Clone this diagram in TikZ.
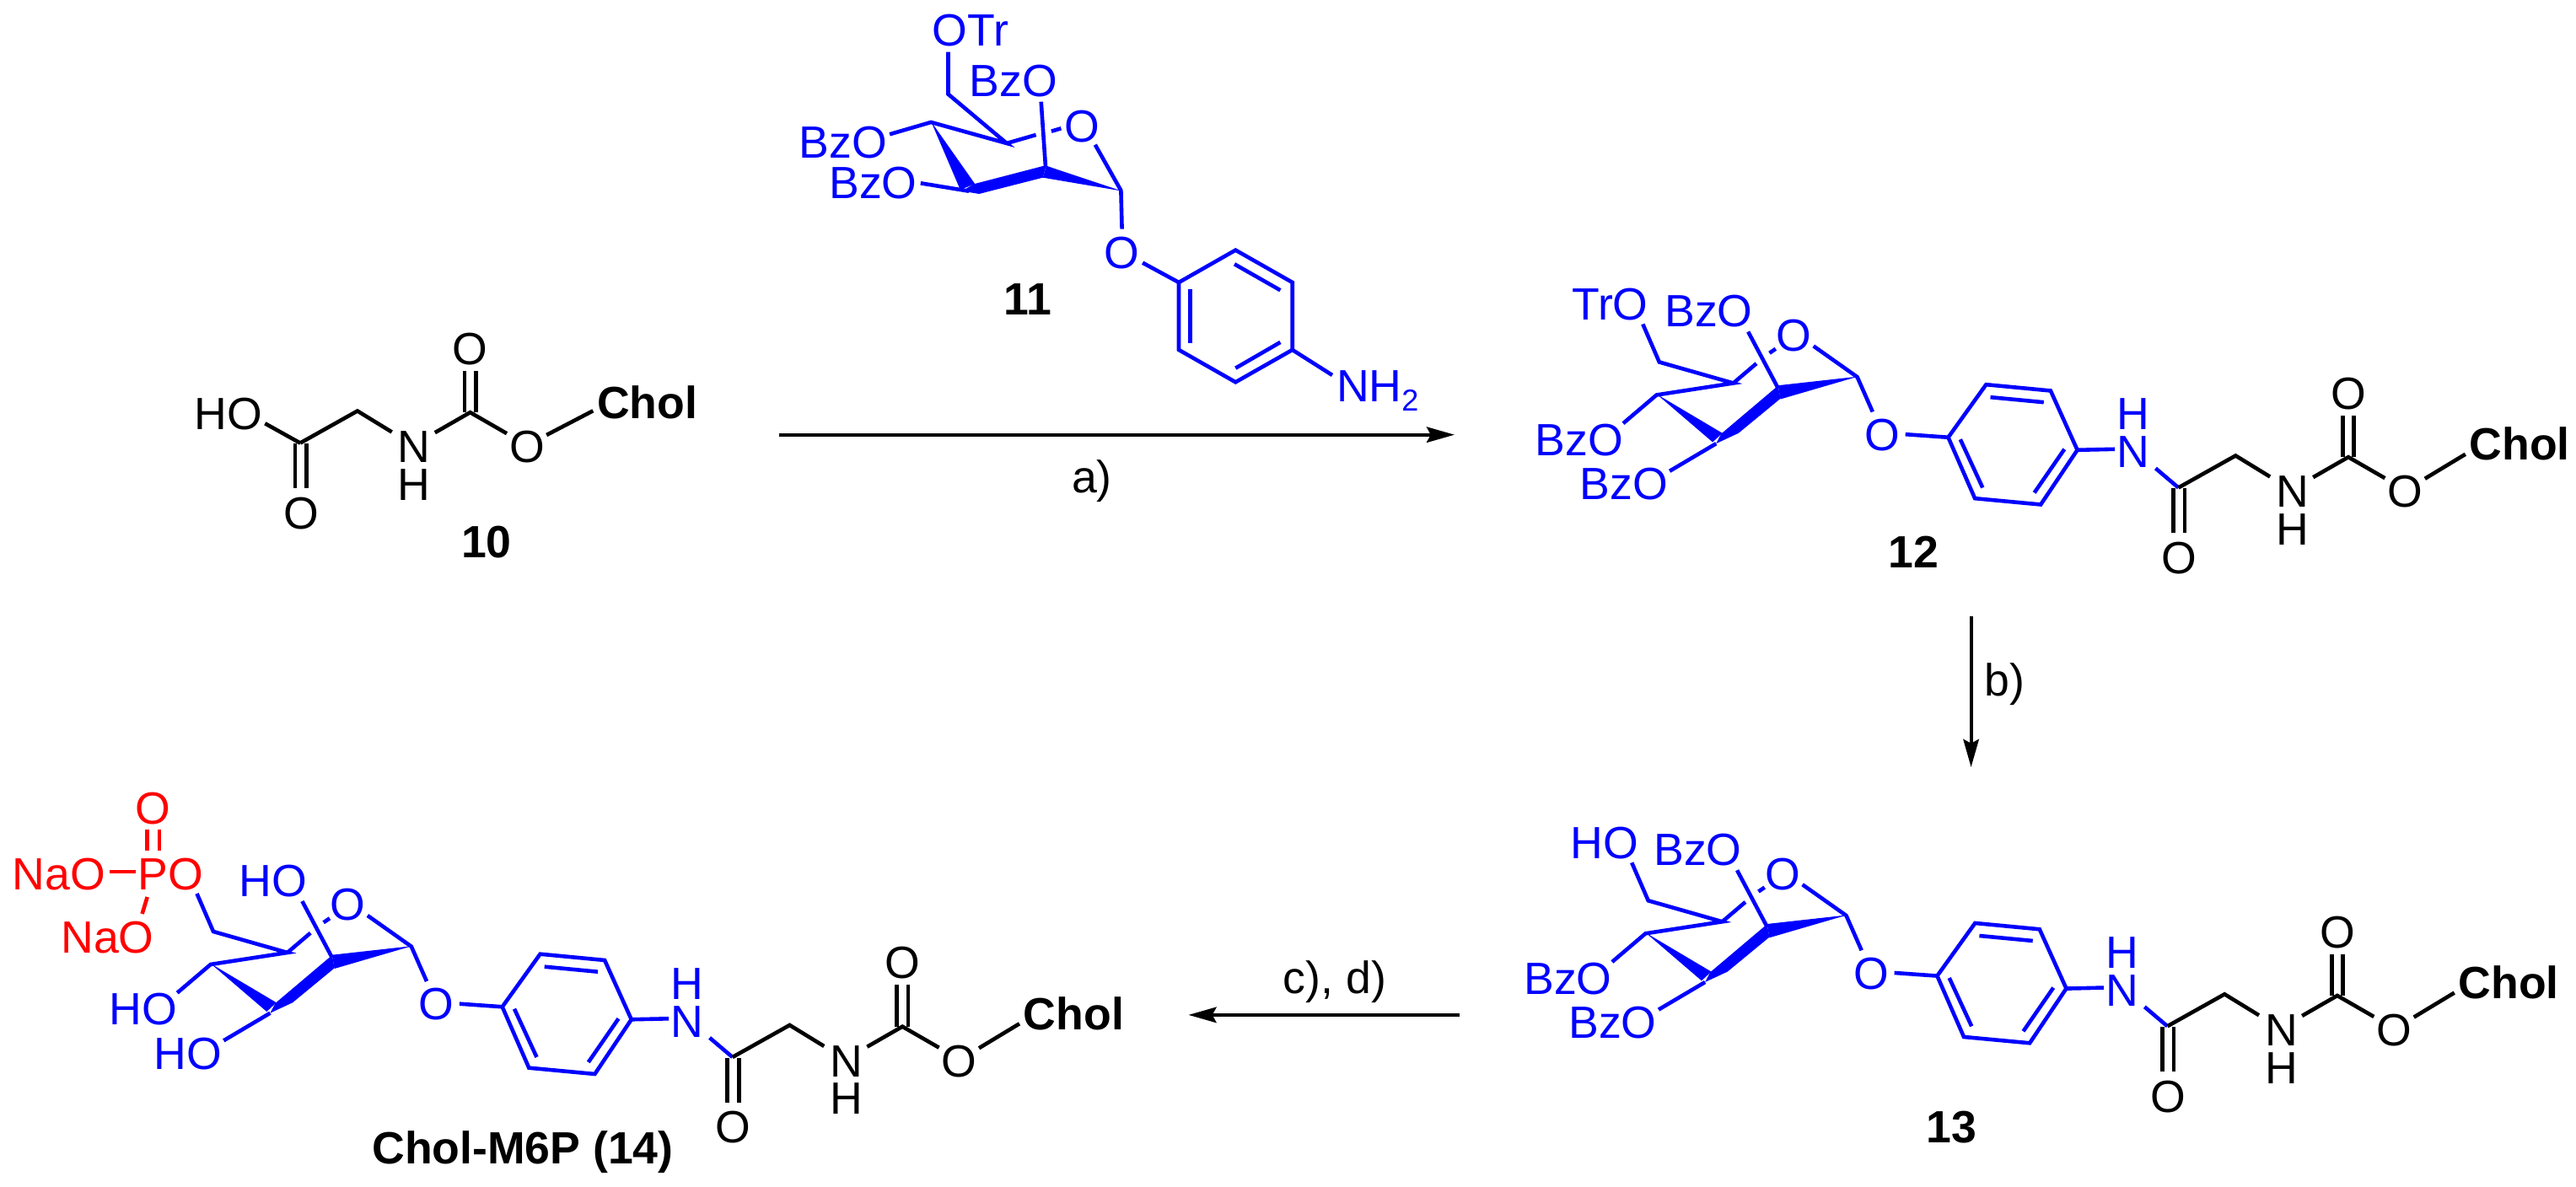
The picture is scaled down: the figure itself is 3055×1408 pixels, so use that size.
\documentclass[tikz,border=0pt]{standalone}
\usepackage{fontspec}
\setmainfont{Liberation Sans}
\usetikzlibrary{arrows.meta}
\definecolor{cblue}{RGB}{0,0,255}
\definecolor{cred}{RGB}{255,0,0}
\tikzset{
  x=0.25pt,y=-0.25pt,
  bond/.style={line width=1.15pt,line join=miter,line cap=butt},
  atom/.style={anchor=base,inner sep=0pt,outer sep=0pt,yshift=-4.8pt,font=\fontsize{13.4}{16}\selectfont},
  blab/.style={atom,font=\fontsize{13.4}{16}\selectfont\bfseries},
  rxn/.style={anchor=base,inner sep=0pt,font=\fontsize{13.4}{16}\selectfont},
  rarrow/.style={line width=1pt,-{Stealth[length=8.25pt,width=4.6pt,inset=1.2pt]}},
}
\newcommand{\sugarcore}{%
  \begin{scope}[cblue]
  \draw[bond] (233.5,1060)--(253,1105)--(340.8,1130)--(249.8,1144)--(210.2,1177.7);
  \draw[bond] (340.8,1130)--(368.2,1106.7);
  \draw[bond] (383.7,1094.3)--(391,1089.3);
  \draw[bond] (358.4,1069)--(393.9,1136);
  \draw[bond] (435.9,1086)--(487.8,1122.7)--(506,1164);
  \draw[bond] (320.4,1201.7)--(265.3,1234.3);
  \fill (249.8,1143)--(316.3,1200)--(327.8,1189.3)--cycle;
  \fill (320.4,1201.7)--(347,1189.3)--(396.7,1148.3)--(393.9,1133)--(326.5,1190)--cycle;
  \fill (488.5,1122.2)--(393.9,1132.7)--(396.7,1149)--cycle;
  \node[atom] (ringO) at (412.2,1072.7) {O};
  \node[atom] (oneO) at (517.6,1190.7) {O};
  \draw[bond] (544.9,1190.7)--(595.7,1194.3);
  \draw[bond,line join=miter] (595.7,1194.3)--(640.6,1131.7)--(717.1,1139)--(748.8,1209.3)--(705.4,1274)--(627.3,1266.7)--cycle;
  \draw[bond] (645.7,1146.7)--(709,1152.7);
  \draw[bond] (733.5,1208.3)--(697.8,1260);
  \draw[bond] (610,1196.7)--(636.5,1254);
  \draw[bond] (748.8,1209.3)--(793.2,1208.3);
  \node[atom] (amN) at (815,1211) {N};
  \node[atom] (amH) at (815,1166) {H};
  \draw[bond] (841.6,1231)--(868.7,1254);
  \end{scope}}
\newcommand{\tailcore}{%
  \draw[bond] (868.7,1254)--(936.5,1216)--(977.3,1241);
  \draw[bond] (1028.4,1241.7)--(1070.2,1217.7)--(1113.6,1242.7);
  \draw[bond] (862.6,1255)--(862.6,1307.7);
  \draw[bond] (876.3,1255)--(876.3,1307.7);
  \draw[bond] (1063.6,1217.7)--(1063.6,1168.3);
  \draw[bond] (1076.8,1217.7)--(1076.8,1168.3);
  \node[atom] (oA) at (869.7,1336.7) {O};
  \node[atom] (nC) at (1003.9,1258.3) {N};
  \node[atom] (hC) at (1003.9,1302.7) {H};
  \node[atom] (oC) at (1070.2,1141.7) {O};
  \node[atom] (oE) at (1137.6,1258.3) {O};}
\newcommand{\cholend}{%
  \draw[bond] (1161,1243.3)--(1209,1214.3);
  \node[blab] (chol) at (1273.5,1202.3) {Chol};}
\begin{document}
\begin{tikzpicture}
\useasboundingbox (0,0) rectangle (3055,1408);

% ---- compound 10
\begin{scope}[shift={(-512.6,-728.5)},name prefix=c10-]
  \tailcore
  \draw[bond] (826.9,1230.8)--(868.9,1254.2);
\end{scope}
\draw[bond] (648.2,516)--(703.3,487.3);
\node[blab] (chol10) at (767.8,477.3) {Chol};
\node[atom] (ho10) at (271,490.7) {HO};
\node[blab] (lab10) at (577,642.3) {10};

% ---- compound 11
\begin{scope}[cblue]
  \node[atom] (otr11) at (1151,35) {OTr};
  \node[atom] (bzoA11) at (1201.6,95) {BzO};
  \node[atom] (bzoB11) at (999.6,168.3) {BzO};
  \node[atom] (bzoC11) at (1035.5,216) {BzO};
  \node[atom] (ringO11) at (1283.7,149) {O};
  \node[atom] (oneO11) at (1330.6,299.3) {O};
  \draw[bond] (1124.5,61.7)--(1124.5,111.7)--(1193.9,170)--(1104.1,145)--(1055.1,159.3);
  \draw[bond] (1193.9,170)--(1228.6,160);
  \draw[bond] (1246.9,155.7)--(1258.4,152.3);
  \draw[bond] (1234.7,120.7)--(1240,198);
  \draw[bond] (1298.8,171.7)--(1329.4,226)--(1330.6,271.7);
  \draw[bond] (1091.8,217.3)--(1149,226.7);
  \fill (1104.1,144)--(1138.8,225)--(1156.3,218.3)--cycle;
  \fill (1140.8,226.7)--(1161.2,230)--(1236.7,210.7)--(1240.8,196)--(1155,218.3)--cycle;
  \fill (1330,226.5)--(1240.8,196.7)--(1236.7,210.7)--cycle;
  \draw[bond] (1355.1,311.7)--(1398,335);
  \draw[bond] (1398,335)--(1465.3,296.7)--(1532.7,335)--(1532.7,415)--(1465.3,453.3)--(1398,415)--cycle;
  \draw[bond] (1464,313.3)--(1518.4,344.3);
  \draw[bond] (1518.4,406)--(1465.3,436.7);
  \draw[bond] (1411.4,342.7)--(1411.4,406.7);
  \draw[bond] (1532.7,415)--(1580,445);
  \node[atom,anchor=base west] (nh11) at (1585,457) {NH\raisebox{-0.22em}{\fontsize{9}{10}\selectfont 2}};
\end{scope}
\node[blab] (lab11) at (1219,354) {11};

% ---- reaction arrows
\coordinate (aS) at (924,515.7);
\coordinate (aE) at (1725,515.7);
\draw[rarrow] (aS)--(aE);
\node[rxn] (ta) at (1295,585) {a)};
\coordinate (bS) at (2337.6,731.4);
\coordinate (bE) at (2337.6,910);
\draw[rarrow] (bS)--(bE);
\node[rxn] (tb) at (2377.5,825.8) {b)};
\coordinate (cS) at (1730.8,1203.9);
\coordinate (cE) at (1409.5,1203.9);
\draw[rarrow] (cS)--(cE);
\node[rxn] (tc) at (1583,1179) {c), d)};

% ---- compound 12
\begin{scope}[shift={(1714.8,-675.5)},name prefix=c12-]
  \sugarcore
  \tailcore
  \cholend
  \begin{scope}[cblue]
  \node[atom] (six) at (194.6,1036.2) {TrO};
  \node[atom] (two) at (311.7,1044.3) {BzO};
  \node[atom] (four) at (157.8,1196.7) {BzO};
  \node[atom] (three) at (210.8,1249.3) {BzO};
  \end{scope}
\end{scope}
\node[blab] (lab12) at (2269,654) {12};

% ---- compound 13
\begin{scope}[shift={(1701.7,-36.7)},name prefix=c13-]
  \sugarcore
  \tailcore
  \cholend
  \begin{scope}[cblue]
  \node[atom] (six) at (201,1036) {HO};
  \node[atom] (two) at (311.7,1044.3) {BzO};
  \node[atom] (four) at (157.8,1196.7) {BzO};
  \node[atom] (three) at (210.8,1249.3) {BzO};
  \end{scope}
\end{scope}
\node[blab] (lab13) at (2314,1336) {13};

% ---- compound 14
\begin{scope}[name prefix=c14-]
  \sugarcore
  \tailcore
  \cholend
  \begin{scope}[cblue]
  \node[atom] (two) at (323.6,1044.3) {HO};
  \node[atom] (four) at (169.7,1196.7) {HO};
  \node[atom] (three) at (222.7,1249.3) {HO};
  \end{scope}
  \begin{scope}[cred]
  \node[atom] (po) at (202.4,1036.7) {PO};
  \node[atom] (naA) at (70,1036.7) {NaO};
  \node[atom] (naB) at (127.5,1111.7) {NaO};
  \node[atom] (oP) at (181.6,958) {O};
  \draw[bond] (129.8,1034)--(161,1034);
  \draw[bond] (174.7,984.3)--(174.7,1009.3);
  \draw[bond] (189,984.3)--(189,1009.3);
  \draw[bond] (174.7,1064)--(168.6,1084);
  \end{scope}
\end{scope}
\node[blab] (lab14) at (620,1361) {Chol-M6P (14)};
\end{tikzpicture}
\end{document}
